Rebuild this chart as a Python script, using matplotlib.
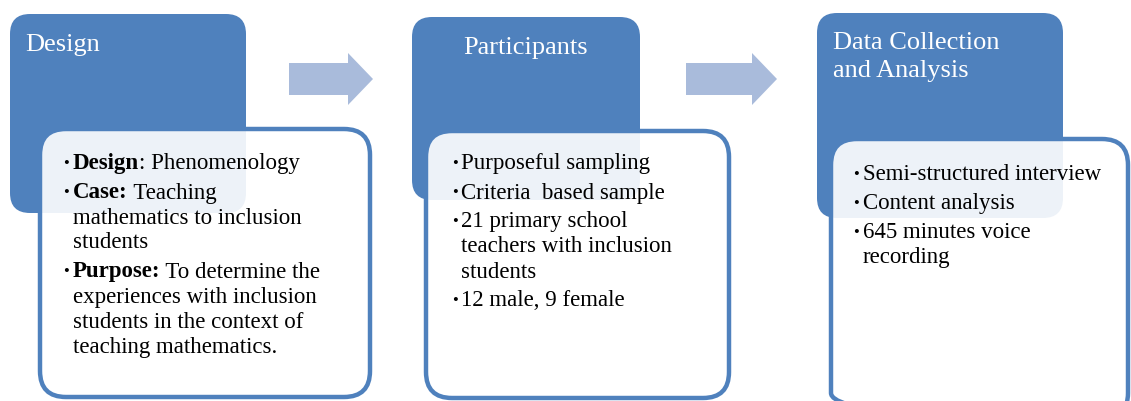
import matplotlib.pyplot as plt
from matplotlib.patches import FancyBboxPatch, FancyArrow

# panel titles and bullet contents (bold prefix, regular text), one entry per printed line
titles = ["Design", "Participants", "Data Collection\nand Analysis"]

bullets = [
    [
        [("Design", ": Phenomenology")],
        [("Case:", " Teaching"), ("", "mathematics to inclusion"), ("", "students")],
        [("Purpose:", " To determine the"), ("", "experiences with inclusion"),
         ("", "students in the context of"), ("", "teaching mathematics.")],
    ],
    [
        [("", "Purposeful sampling")],
        [("", "Criteria  based sample")],
        [("", "21 primary school"), ("", "teachers with inclusion"), ("", "students")],
        [("", "12 male, 9 female")],
    ],
    [
        [("", "Semi-structured interview")],
        [("", "Content analysis")],
        [("", "645 minutes voice"), ("", "recording")],
    ],
]

# layout in pixels (figure is 1131 x 401)
blue_boxes = [(10, 14, 236, 199), (412, 17, 228, 183), (817, 13, 246, 205)]
white_boxes = [(40, 129, 330, 268), (426, 131, 303, 267), (831, 139, 297, 280)]
arrows = [(289, 373), (686, 777)]
arrow_y = 79
title_pos = [(25, 45), (463, 48), (833, 57)]
text_x = [(63, 73), (452, 461), (853, 863)]
first_y = [164, 164, 175]
line_gap = 25
bullet_gap = 29

blue = "#4F81BD"
arrow_col = "#A9BBDB"
serif = "Liberation Serif"

fig = plt.figure(figsize=(11.31, 4.01), dpi=100)
ax = fig.add_axes([0, 0, 1, 1])
ax.set_xlim(0, 1131)
ax.set_ylim(401, 0)
ax.axis("off")

for (x, y, w, h) in blue_boxes:
    ax.add_patch(FancyBboxPatch((x, y), w, h, boxstyle="round,pad=0,rounding_size=20",
                                fc=blue, ec="none", zorder=1))

for (x, y, w, h) in white_boxes:
    ax.add_patch(FancyBboxPatch((x, y), w, h, boxstyle="round,pad=0,rounding_size=26",
                                fc="white", alpha=0.9, ec="none", zorder=2))
    ax.add_patch(FancyBboxPatch((x, y), w, h, boxstyle="round,pad=0,rounding_size=26",
                                fc="none", ec=blue, lw=3.2, zorder=3))

for (x0, x1) in arrows:
    ax.add_patch(FancyArrow(x0, arrow_y, x1 - x0, 0, width=32, head_width=52,
                            head_length=25, length_includes_head=True,
                            fc=arrow_col, ec="none", zorder=1))

for title, (tx, ty) in zip(titles, title_pos):
    ax.text(tx, ty, title, color="white", fontsize=19, family=serif,
            ha="left", va="center", linespacing=1.3, zorder=4)

fig.canvas.draw()
renderer = fig.canvas.get_renderer()
inv = ax.transData.inverted()

for items, (bx, tx), y0 in zip(bullets, text_x, first_y):
    y = y0
    for item in items:
        ax.text(bx, y, "\u2022", fontsize=12, family=serif, va="center", ha="left", zorder=4)
        for bold, reg in item:
            x = tx
            if bold:
                t = ax.text(x, y, bold, fontsize=16.5, family=serif, weight="bold",
                            va="center", ha="left", zorder=4)
                bb = t.get_window_extent(renderer)
                x = inv.transform((bb.x1, bb.y0))[0]
            ax.text(x, y, reg, fontsize=16.5, family=serif, va="center", ha="left", zorder=4)
            y += line_gap
        y += bullet_gap - line_gap

fig.savefig("out.png", dpi=100)
